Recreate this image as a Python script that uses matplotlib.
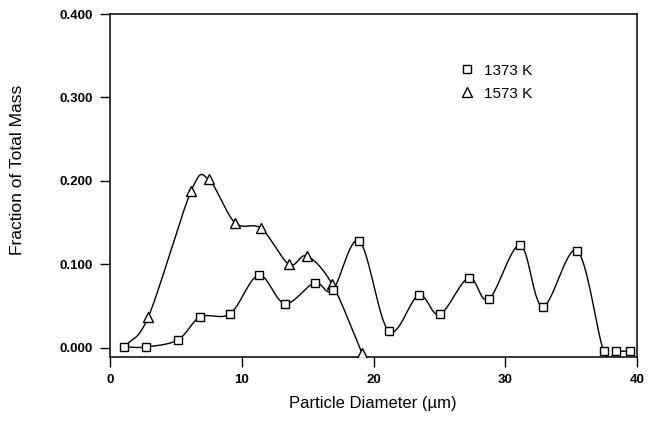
"""
Mass fraction vs particle diameter at two temperatures
"""
import numpy as np
import matplotlib
matplotlib.use('Agg')
import matplotlib.pyplot as plt
from matplotlib.lines import Line2D

# Data
d_1373 = [1.1, 2.75, 5.15, 6.85, 9.13, 11.28, 13.27, 15.53, 16.9, 18.92,
          21.15, 23.42, 25.02, 27.22, 28.74, 31.12, 32.84, 35.45, 37.47, 38.43, 39.45]
m_1373 = [0.001, 0.001, 0.0095, 0.037, 0.041, 0.087, 0.053, 0.078, 0.069, 0.128,
          0.020, 0.063, 0.040, 0.084, 0.058, 0.123, 0.0495, 0.1165, -0.004, -0.004, -0.004]

d_1573 = [1.1, 2.92, 6.16, 7.48, 9.48, 11.48, 13.58, 14.95, 16.87, 19.12]
m_1573 = [0.001, 0.0375, 0.188, 0.202, 0.150, 0.143, 0.100, 0.110, 0.076, -0.006]

series_labels = ['1373 K', '1573 K']
xticks = [0, 10, 20, 30, 40]
yticks = [0.0, 0.1, 0.2, 0.3, 0.4]


def catmull_rom(x, y, n=30):
    # smooth curve through the points (uniform Catmull-Rom)
    P = np.column_stack([x, y]).astype(float)
    P = np.vstack([2 * P[0] - P[1], P, 2 * P[-1] - P[-2]])
    out = []
    for i in range(1, len(P) - 2):
        p0, p1, p2, p3 = P[i - 1], P[i], P[i + 1], P[i + 2]
        t = np.linspace(0, 1, n, endpoint=(i == len(P) - 3))[:, None]
        seg = 0.5 * ((2 * p1) + (-p0 + p2) * t
                     + (2 * p0 - 5 * p1 + 4 * p2 - p3) * t ** 2
                     + (-p0 + 3 * p1 - 3 * p2 + p3) * t ** 3)
        out.append(seg)
    out = np.vstack(out)
    return out[:, 0], out[:, 1]


plt.rcParams['font.family'] = ['Liberation Sans', 'DejaVu Sans']

fig = plt.figure(figsize=(6.48, 4.36), dpi=100)
ax = fig.add_axes([110 / 648, 1 - 357 / 436, 527 / 648, 343 / 436])

xs, ys = catmull_rom(d_1573, m_1573)
ax.plot(xs, ys, color='k', lw=1.0, zorder=2)
ax.plot(d_1573[1:], m_1573[1:], linestyle='none', marker='^', ms=7,
        mfc='white', mec='k', mew=1.0, zorder=3)

xs, ys = catmull_rom(d_1373, m_1373)
ax.plot(xs, ys, color='k', lw=1.0, zorder=2)
ax.plot(d_1373, m_1373, linestyle='none', marker='s', ms=6,
        mfc='white', mec='k', mew=1.0, zorder=4)

ax.set_xlim(0, 40)
ax.set_ylim(-0.011, 0.400)
ax.set_xticks(xticks)
ax.set_yticks(yticks)
ax.set_yticklabels(['%.3f' % v for v in yticks])
ax.tick_params(axis='both', direction='out', length=7.5, width=1.0,
               labelsize=9.5, pad=5)
for lab in ax.get_xticklabels() + ax.get_yticklabels():
    lab.set_fontweight('bold')
for sp in ax.spines.values():
    sp.set_linewidth(1.1)

fig.text(18 / 648, 1 - 170 / 436, 'Fraction of Total Mass', rotation=90,
         ha='center', va='center', fontsize=12.5)
fig.text(373 / 648, 1 - 403 / 436, 'Particle Diameter (\u00b5m)',
         ha='center', va='center', fontsize=12)

handles = [Line2D([], [], linestyle='none', marker='s', ms=6, mfc='white', mec='k', mew=1.0),
           Line2D([], [], linestyle='none', marker='^', ms=7, mfc='white', mec='k', mew=1.0)]
ax.legend(handles, series_labels, loc='upper left', bbox_to_anchor=(0.655, 0.873),
          frameon=False, fontsize=11, handlelength=0.8, handletextpad=0.7,
          labelspacing=0.6, borderaxespad=0)

fig.savefig('out.png', dpi=100)
